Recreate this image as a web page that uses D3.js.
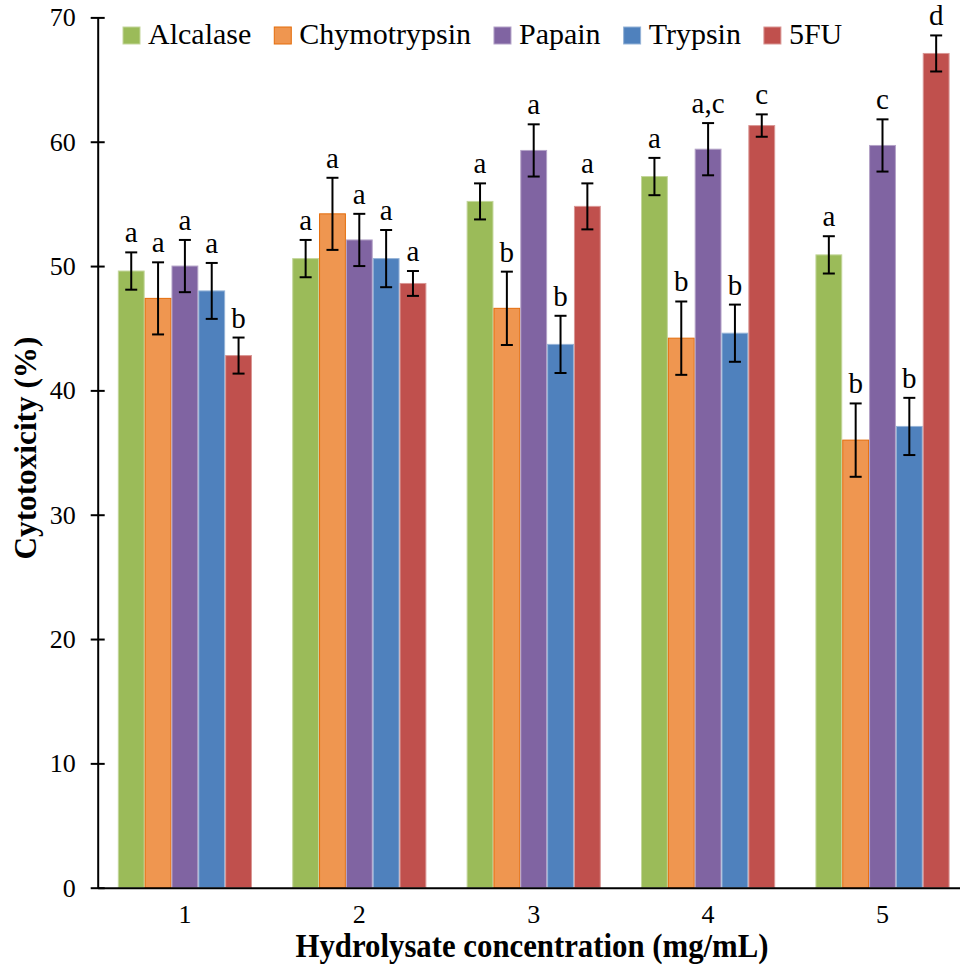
<!DOCTYPE html>
<html>
<head>
<meta charset="utf-8">
<script src="https://cdn.jsdelivr.net/npm/d3@7"></script>
<style>
html, body { margin: 0; padding: 0; background: #fff; }
svg { display: block; }
</style>
</head>
<body>
<svg id="chart" width="960" height="966"></svg>
<script>
// ---- data ----
const categories = ["1", "2", "3", "4", "5"];
const seriesNames = ["Alcalase", "Chymotrypsin", "Papain", "Trypsin", "5FU"];
const alcalase     = [49.6, 50.6, 55.2, 57.2, 50.9];
const chymotrypsin = [47.4, 54.2, 46.6, 44.2, 36.0];
const papain       = [50.0, 52.1, 59.3, 59.4, 59.7];
const trypsin      = [48.0, 50.6, 43.7, 44.6, 37.1];
const fiveFU       = [42.8, 48.6, 54.8, 61.3, 67.1];
const alcalaseErr     = [1.5, 1.5, 1.45, 1.5, 1.5];
const chymotrypsinErr = [2.9, 2.9, 2.95, 2.95, 2.95];
const papainErr       = [2.1, 2.1, 2.1, 2.1, 2.1];
const trypsinErr      = [2.25, 2.3, 2.3, 2.3, 2.3];
const fiveFUErr       = [1.45, 1.0, 1.85, 0.9, 1.45];
const alcalaseSig     = ["a", "a", "a", "a", "a"];
const chymotrypsinSig = ["a", "a", "b", "b", "b"];
const papainSig       = ["a", "a", "a", "a,c", "c"];
const trypsinSig      = ["a", "a", "b", "b", "b"];
const fiveFUSig       = ["b", "a", "a", "c", "d"];
const yTicks = [0, 10, 20, 30, 40, 50, 60, 70];

const seriesValues = [alcalase, chymotrypsin, papain, trypsin, fiveFU];
const seriesErrs = [alcalaseErr, chymotrypsinErr, papainErr, trypsinErr, fiveFUErr];
const seriesSigs = [alcalaseSig, chymotrypsinSig, papainSig, trypsinSig, fiveFUSig];

// ---- styles ----
const FONT = "'Liberation Serif', 'Times New Roman', Times, serif";
const fills   = ["#9BBB59", "#EF9650", "#8064A2", "#4F81BD", "#C0504D"];
const strokes = ["#C3D69B", "#E46C0A", "#B3A2C7", "#95B3D7", "#D99694"];

const svg = d3.select("#chart").attr("font-family", FONT);
const pLeft = 97.7, pRight = 969.7, pTop = 17.4, pBottom = 887.7;

const x0 = d3.scaleBand().domain(categories).range([pLeft, pRight]).paddingInner(0).paddingOuter(0);
const bw = x0.bandwidth();
const x1 = d3.scaleBand().domain(seriesNames).range([bw * 0.75 / 6.5, bw * 5.75 / 6.5]).padding(0);
const y = d3.scaleLinear().domain([0, 70]).range([pBottom, pTop]);

const rows = [];
categories.forEach((c, ci) => {
  seriesNames.forEach((s, si) => {
    rows.push({ c, s, si, v: seriesValues[si][ci], e: seriesErrs[si][ci], sig: seriesSigs[si][ci] });
  });
});

// bars
svg.append("g").selectAll("rect").data(rows).join("rect")
  .attr("x", d => x0(d.c) + x1(d.s) + 0.5)
  .attr("y", d => y(d.v))
  .attr("width", x1.bandwidth() - 1)
  .attr("height", d => y(0) - y(d.v))
  .attr("fill", d => fills[d.si])
  .attr("stroke", d => strokes[d.si])
  .attr("stroke-width", 1);

// error bars
const eg = svg.append("g").attr("stroke", "#000").attr("stroke-width", 2);
rows.forEach(d => {
  const cx = x0(d.c) + x1(d.s) + x1.bandwidth() / 2;
  eg.append("line").attr("x1", cx).attr("x2", cx).attr("y1", y(d.v + d.e)).attr("y2", y(d.v - d.e));
  eg.append("line").attr("x1", cx - 6).attr("x2", cx + 6).attr("y1", y(d.v + d.e)).attr("y2", y(d.v + d.e));
  eg.append("line").attr("x1", cx - 6).attr("x2", cx + 6).attr("y1", y(d.v - d.e)).attr("y2", y(d.v - d.e));
});

// significance letters
svg.append("g").selectAll("text").data(rows).join("text")
  .attr("x", d => x0(d.c) + x1(d.s) + x1.bandwidth() / 2)
  .attr("y", d => y(d.v + d.e) - 10)
  .attr("text-anchor", "middle")
  .attr("font-family", FONT)
  .attr("font-size", 29)
  .text(d => d.sig);

// y axis
const yAxis = svg.append("g").attr("transform", `translate(${pLeft},0)`)
  .call(d3.axisLeft(y).tickValues(yTicks).tickSize(7).tickSizeOuter(0).tickPadding(15));
yAxis.attr("font-family", FONT).attr("font-size", 26);
yAxis.selectAll(".tick line").attr("x1", 7).attr("stroke-width", 2);
yAxis.select(".domain").attr("stroke-width", 2);
yAxis.selectAll(".tick text").attr("font-family", FONT).attr("font-size", 26).attr("dy", "0.33em").attr("x", -22);

// x axis
const xAxis = svg.append("g").attr("transform", `translate(0,${pBottom})`)
  .call(d3.axisBottom(x0).tickSize(0).tickSizeOuter(0));
xAxis.attr("font-family", FONT).attr("font-size", 26);
xAxis.select(".domain").attr("stroke-width", 2);
xAxis.selectAll(".tick text").attr("font-family", FONT).attr("font-size", 26).attr("y", 35).attr("dy", 0);

// axis titles
svg.append("text")
  .attr("transform", "translate(36,448) rotate(-90)")
  .attr("text-anchor", "middle")
  .attr("font-family", FONT)
  .attr("font-size", 32)
  .attr("font-weight", "bold")
  .attr("textLength", 223)
  .attr("lengthAdjust", "spacingAndGlyphs")
  .text("Cytotoxicity (%)");

svg.append("text")
  .attr("x", 532).attr("y", 957)
  .attr("text-anchor", "middle")
  .attr("font-family", FONT)
  .attr("font-size", 34)
  .attr("font-weight", "bold")
  .attr("textLength", 473)
  .attr("lengthAdjust", "spacingAndGlyphs")
  .text("Hydrolysate concentration (mg/mL)");

// legend
const lg = svg.append("g");
let lx = 123;
seriesNames.forEach((s, i) => {
  lg.append("rect").attr("x", lx).attr("y", 27).attr("width", 17).attr("height", 17)
    .attr("fill", fills[i]).attr("stroke", strokes[i]).attr("stroke-width", 1);
  const t = lg.append("text").attr("x", lx + 25).attr("y", 44)
    .attr("font-family", FONT).attr("font-size", 30).text(s);
  lx += 25 + t.node().getComputedTextLength() + 23;
});
</script>
</body>
</html>
